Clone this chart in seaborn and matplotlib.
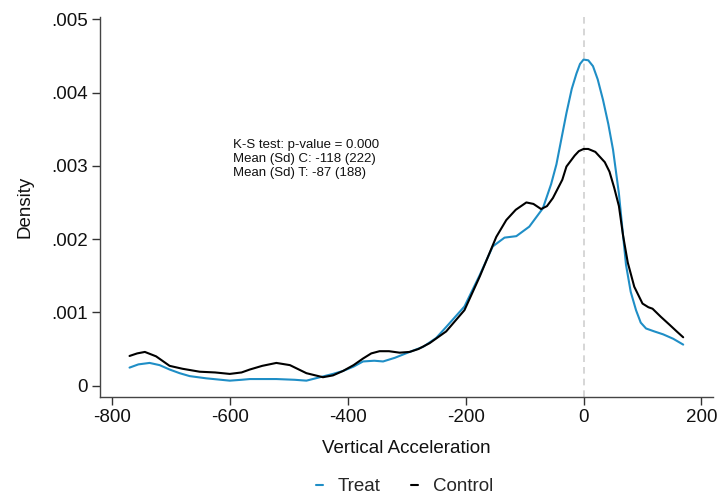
import matplotlib
matplotlib.use("Agg")
import matplotlib.pyplot as plt
import seaborn as sns
import pandas as pd
from matplotlib.lines import Line2D

# ---- data ----
control_x = [-770, -757, -744, -725, -702, -680, -651, -625, -600, -580, -566, -545,
             -521, -498, -470, -442, -425, -408, -390, -374, -360, -346, -330, -312,
             -295, -280, -261, -233, -202, -176, -148, -131, -115, -97, -85, -72, -62,
             -52, -36, -29, -15, -8, 0, 8, 20, 36, 44, 52, 60, 67, 75, 86, 100, 110,
             117, 131, 146, 158, 169]
control_y = [.000405, .00044, .00046, .00040, .00027, .00023, .00019, .00018, .00016,
             .00018, .00022, .00027, .00031, .00028, .00017, .000115, .00014, .00020,
             .00028, .00037, .00044, .00047, .00047, .00045, .00046, .00050, .00058,
             .00074, .00103, .00149, .00203, .00226, .00240, .00250, .00248, .00241,
             .00245, .00256, .00281, .00299, .00314, .00320, .00323, .00323, .00319,
             .00305, .00292, .00270, .00245, .00205, .00168, .00135, .00112, .00107,
             .00105, .00094, .00083, .00074, .00066]

treat_x = [-770, -755, -736, -719, -702, -685, -668, -640, -600, -580, -566, -521,
           -490, -470, -447, -425, -408, -390, -374, -355, -340, -320, -295, -272,
           -250, -233, -202, -176, -154, -134, -114, -92, -69, -55, -46, -38, -29,
           -20, -12, -6, 0, 8, 16, 24, 33, 42, 50, 60, 67, 72, 80, 89, 97, 106, 120,
           135, 152, 169]
treat_y = [.000246, .00029, .00031, .00028, .00022, .00017, .00013, .00010, .000068,
           .00008, .00009, .00009, .00008, .000068, .000115, .00016, .00020, .00026,
           .00033, .00034, .00033, .00038, .00046, .00053, .00065, .00080, .00108,
           .00151, .00190, .00202, .00204, .00217, .00242, .00275, .00302, .00335,
           .00372, .00405, .00426, .00439, .00445, .00444, .00436, .00418, .00390,
           .00357, .00322, .00262, .00205, .00165, .00128, .00103, .00086, .00078,
           .00074, .00070, .00064, .00056]

groups = ["Treat", "Control"]
x_ticks = [-800, -600, -400, -200, 0, 200]
y_ticks = [0, 0.001, 0.002, 0.003, 0.004, 0.005]
y_tick_labels = ["0", ".001", ".002", ".003", ".004", ".005"]
annotation = ["K-S test: p-value = 0.000", "Mean (Sd) C: -118 (222)", "Mean (Sd) T: -87 (188)"]

df = pd.concat([
    pd.DataFrame({"x": treat_x, "y": treat_y, "group": "Treat"}),
    pd.DataFrame({"x": control_x, "y": control_y, "group": "Control"}),
])

sns.set_theme(style="white")
plt.rcParams["font.family"] = ["Liberation Sans", "DejaVu Sans"]

colors = {"Treat": "#1f8ec6", "Control": "#000000"}
FS = 13.5

fig = plt.figure(figsize=(7.25, 4.96), dpi=100)
ax = fig.add_axes([0.138, 0.1996, 0.845, 0.766])

ax.axvline(0, color="#d0d0d0", lw=1.2, ls=(0, (4, 3)), zorder=0)

sns.lineplot(data=df, x="x", y="y", hue="group", palette=colors, sort=False,
             lw=1.5, ax=ax, legend=False, estimator=None)

ax.set_xlim(-820, 219)
ax.set_ylim(-0.000155, 0.00503)
ax.set_xticks(x_ticks)
ax.set_xticklabels([str(t) for t in x_ticks])
ax.set_yticks(y_ticks)
ax.set_yticklabels(y_tick_labels)
ax.tick_params(axis="both", direction="out", length=5.5, width=1, color="#333333",
               labelsize=FS, labelcolor="#111111", bottom=True, left=True, pad=3)
ax.tick_params(axis="y", rotation=0)

for s in ["top", "right"]:
    ax.spines[s].set_visible(False)
for s in ["left", "bottom"]:
    ax.spines[s].set_color("#444444")
    ax.spines[s].set_linewidth(1.0)

ax.set_xlabel("Vertical Acceleration", fontsize=FS, color="#111111", labelpad=10)
ax.set_ylabel("Density", fontsize=FS, color="#111111", labelpad=13)

ax.text(-595, 0.00336, "\n".join(annotation), fontsize=9.5, va="top", ha="left",
        linespacing=1.22, color="#111111")

handles = [Line2D([0], [0], color=colors[g], lw=1.5) for g in groups]
fig.legend(handles, groups, loc="center", bbox_to_anchor=(0.558, 0.019), ncol=2,
           frameon=False, fontsize=FS, handlelength=0.35, handletextpad=0.8,
           columnspacing=1.65, borderpad=0)

fig.savefig("out.png", dpi=100)
